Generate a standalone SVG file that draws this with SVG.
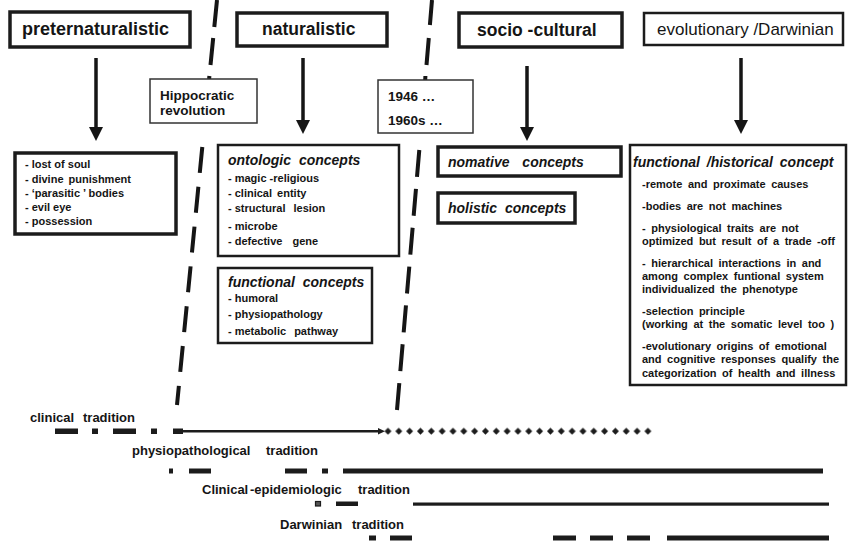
<svg xmlns="http://www.w3.org/2000/svg" width="850" height="541" viewBox="0 0 850 541">
<style>
text{font-family:"Liberation Sans",Arial,sans-serif;fill:#151515;font-weight:bold}
.hdr{font-size:18px}
.hdrn{font-size:17px;font-weight:normal}
.box{fill:#fff;stroke:#1c1c1c;stroke-width:3.5}
.box2{fill:#fff;stroke:#1c1c1c;stroke-width:2.5}
.thin{fill:#fff;stroke:#333;stroke-width:1.5}
.lbl{font-size:13.5px}
.item{font-size:11px}
.ttl{font-size:14px;font-style:italic;word-spacing:4px}
.para{font-size:11px;word-spacing:2.5px}
.trad{font-size:13px}
.arr{stroke:#151515;stroke-width:3.5;fill:none}
.dash{stroke:#151515;stroke-width:4;fill:none}
.bar{fill:#1c1c1c}
</style>
<defs>
<marker id="ah" markerUnits="userSpaceOnUse" markerWidth="14" markerHeight="14" viewBox="0 0 14 14" refX="1" refY="7" orient="auto">
<path d="M0,0 L14,7 L0,14 z" fill="#151515"/>
</marker>
<pattern id="dia" patternUnits="userSpaceOnUse" x="382.6" y="427.5" width="10.83" height="7.5">
<path d="M5.4,0.3 L8.9,3.75 L5.4,7.2 L1.9,3.75 z" fill="#1c1c1c"/>
</pattern>
</defs>

<g id="era-dividers">
<path class="dash" d="M217,0 L214.3,27 M213.2,38 L210.5,65 M209.4,76 L209.1,79"/>
<path class="dash" d="M202.3,147 L177,405" stroke-dasharray="26 14"/>
<path class="dash" d="M432,0 L429.9,25 M428.8,38 L426.5,65 M425.4,76 L425.2,80"/>
<path class="dash" d="M419.3,150 L397,410" stroke-dasharray="27 12"/>
</g>

<g id="connectors">
<line class="arr" x1="96" y1="58" x2="96" y2="128" marker-end="url(#ah)"/>
<line class="arr" x1="303" y1="58" x2="303" y2="121" marker-end="url(#ah)"/>
<line class="arr" x1="527" y1="66" x2="527" y2="128" marker-end="url(#ah)"/>
<line class="arr" x1="741" y1="58" x2="741" y2="121" marker-end="url(#ah)"/>
</g>

<g id="preternaturalistic">
<rect class="box" x="10" y="12" width="180" height="35"/>
<text class="hdr" x="22" y="35">preternaturalistic</text>
</g>
<g id="naturalistic">
<rect class="box" x="237" y="13" width="150" height="33"/>
<text class="hdr" x="262" y="35" style="font-size:17.5px">naturalistic</text>
</g>
<g id="socio-cultural">
<rect class="box" x="459" y="13" width="163" height="34"/>
<text class="hdr" x="477" y="36" style="font-size:17.5px">socio -cultural</text>
</g>
<g id="evolutionary">
<rect class="box2" x="644" y="13" width="199" height="32"/>
<text class="hdrn" x="657" y="35">evolutionary /Darwinian</text>
</g>

<g id="hippocratic">
<rect class="thin" x="150" y="79" width="107" height="44"/>
<text class="lbl" x="160" y="100">Hippocratic</text>
<text class="lbl" x="160" y="115">revolution</text>
</g>
<g id="dates">
<rect class="thin" x="378" y="80" width="95" height="53"/>
<text class="lbl" x="388" y="101">1946 …</text>
<text class="lbl" x="388" y="125">1960s …</text>
</g>

<g id="preternatural-causes">
<rect class="box" x="15" y="153" width="161" height="81"/>
<text class="item" x="25" y="168">- lost of soul</text>
<text class="item" x="25" y="183">- divine <tspan dx="2">punishment</tspan></text>
<text class="item" x="25" y="197">- ‘parasitic ’ bodies</text>
<text class="item" x="25" y="211">- evil eye</text>
<text class="item" x="25" y="225">- possession</text>
</g>

<g id="ontologic-concepts">
<rect class="box2" x="218" y="145" width="181" height="111"/>
<text class="ttl" x="228" y="165">ontologic concepts</text>
<text class="item" x="228" y="182">- magic -religious</text>
<text class="item" x="228" y="197">- clinical <tspan dx="2">entity</tspan></text>
<text class="item" x="228" y="212">- structural <tspan dx="5">lesion</tspan></text>
<text class="item" x="228" y="230">- microbe</text>
<text class="item" x="228" y="245">- defective <tspan dx="7">gene</tspan></text>
</g>

<g id="functional-concepts">
<rect class="box2" x="218" y="268" width="154" height="75"/>
<text class="ttl" x="228" y="287">functional concepts</text>
<text class="item" x="228" y="302">- humoral</text>
<text class="item" x="228" y="318">- physiopathology</text>
<text class="item" x="228" y="335">- metabolic <tspan dx="5">pathway</tspan></text>
</g>

<g id="normative-concepts">
<rect class="box" x="438" y="147" width="183" height="29"/>
<text class="ttl" x="448" y="167" style="word-spacing:9px">nomative concepts</text>
</g>
<g id="holistic-concepts">
<rect class="box" x="438" y="193" width="137" height="30"/>
<text class="ttl" x="448" y="213">holistic concepts</text>
</g>

<g id="functional-historical-concept">
<rect class="box2" x="630" y="145" width="216" height="240"/>
<text class="ttl" x="633" y="167" style="word-spacing:3px">functional /historical concept</text>
<text class="para" x="642" y="188">-remote and proximate causes</text>
<text class="para" x="642" y="210">-bodies are not machines</text>
<text class="para" x="642" y="232">- <tspan>physiological traits are not</tspan></text>
<text class="para" x="642" y="245">optimized but result of a trade -off</text>
<text class="para" x="642" y="267">- <tspan>hierarchical interactions in and</tspan></text>
<text class="para" x="642" y="280">among complex funtional system</text>
<text class="para" x="642" y="293">individualized the phenotype</text>
<text class="para" x="642" y="315">-selection principle</text>
<text class="para" x="642" y="328">(working at the somatic level too )</text>
<text class="para" x="642" y="350">-evolutionary origins of emotional</text>
<text class="para" x="642" y="363">and cognitive responses qualify the</text>
<text class="para" x="642" y="377">categorization of health and illness</text>
</g>

<g id="clinical-tradition">
<text class="trad" x="30" y="422">clinical <tspan x="83">tradition</tspan></text>
<rect class="bar" x="55" y="428.5" width="23" height="5.5"/>
<rect class="bar" x="92" y="428.5" width="6" height="5.5"/>
<rect class="bar" x="113" y="428.5" width="23" height="5.5"/>
<rect class="bar" x="151" y="428.5" width="6" height="5.5"/>
<rect class="bar" x="173" y="428.5" width="10" height="5.5"/>
<line x1="183" y1="431.2" x2="380" y2="431.2" stroke="#1c1c1c" stroke-width="2.5"/>
<path d="M378,428 L385,431.2 L378,434.4 z" fill="#1c1c1c"/>
<rect x="382.6" y="427.5" width="270.8" height="7.5" fill="url(#dia)"/>
</g>

<g id="physiopathological-tradition">
<text class="trad" x="132" y="455">physiopathological <tspan x="266">tradition</tspan></text>
<rect class="bar" x="169" y="468.5" width="4" height="5"/>
<rect class="bar" x="189" y="468.5" width="22" height="5"/>
<rect class="bar" x="285" y="468.5" width="22" height="5"/>
<rect class="bar" x="322" y="468.5" width="6" height="5"/>
<rect class="bar" x="343" y="468.5" width="480" height="5"/>
</g>

<g id="clinical-epidemiologic-tradition">
<text class="trad" x="202" y="494">Clinical <tspan x="250">-epidemiologic</tspan> <tspan x="358">tradition</tspan></text>
<rect x="315.5" y="501.5" width="5" height="4.5" fill="#555" stroke="#1c1c1c" stroke-width="1.2"/>
<rect class="bar" x="336" y="501.5" width="22" height="4.5"/>
<rect class="bar" x="413" y="502.5" width="416" height="3.2"/>
</g>

<g id="darwinian-tradition">
<text class="trad" x="280" y="529">Darwinian <tspan x="352">tradition</tspan></text>
<rect class="bar" x="369" y="535.5" width="7" height="5"/>
<rect class="bar" x="390" y="535.5" width="22" height="5"/>
<rect class="bar" x="553" y="535.5" width="23" height="5"/>
<rect class="bar" x="590" y="535.5" width="23" height="5"/>
<rect class="bar" x="627" y="535.5" width="23" height="5"/>
<rect class="bar" x="667" y="535.5" width="162" height="5"/>
</g>
</svg>
